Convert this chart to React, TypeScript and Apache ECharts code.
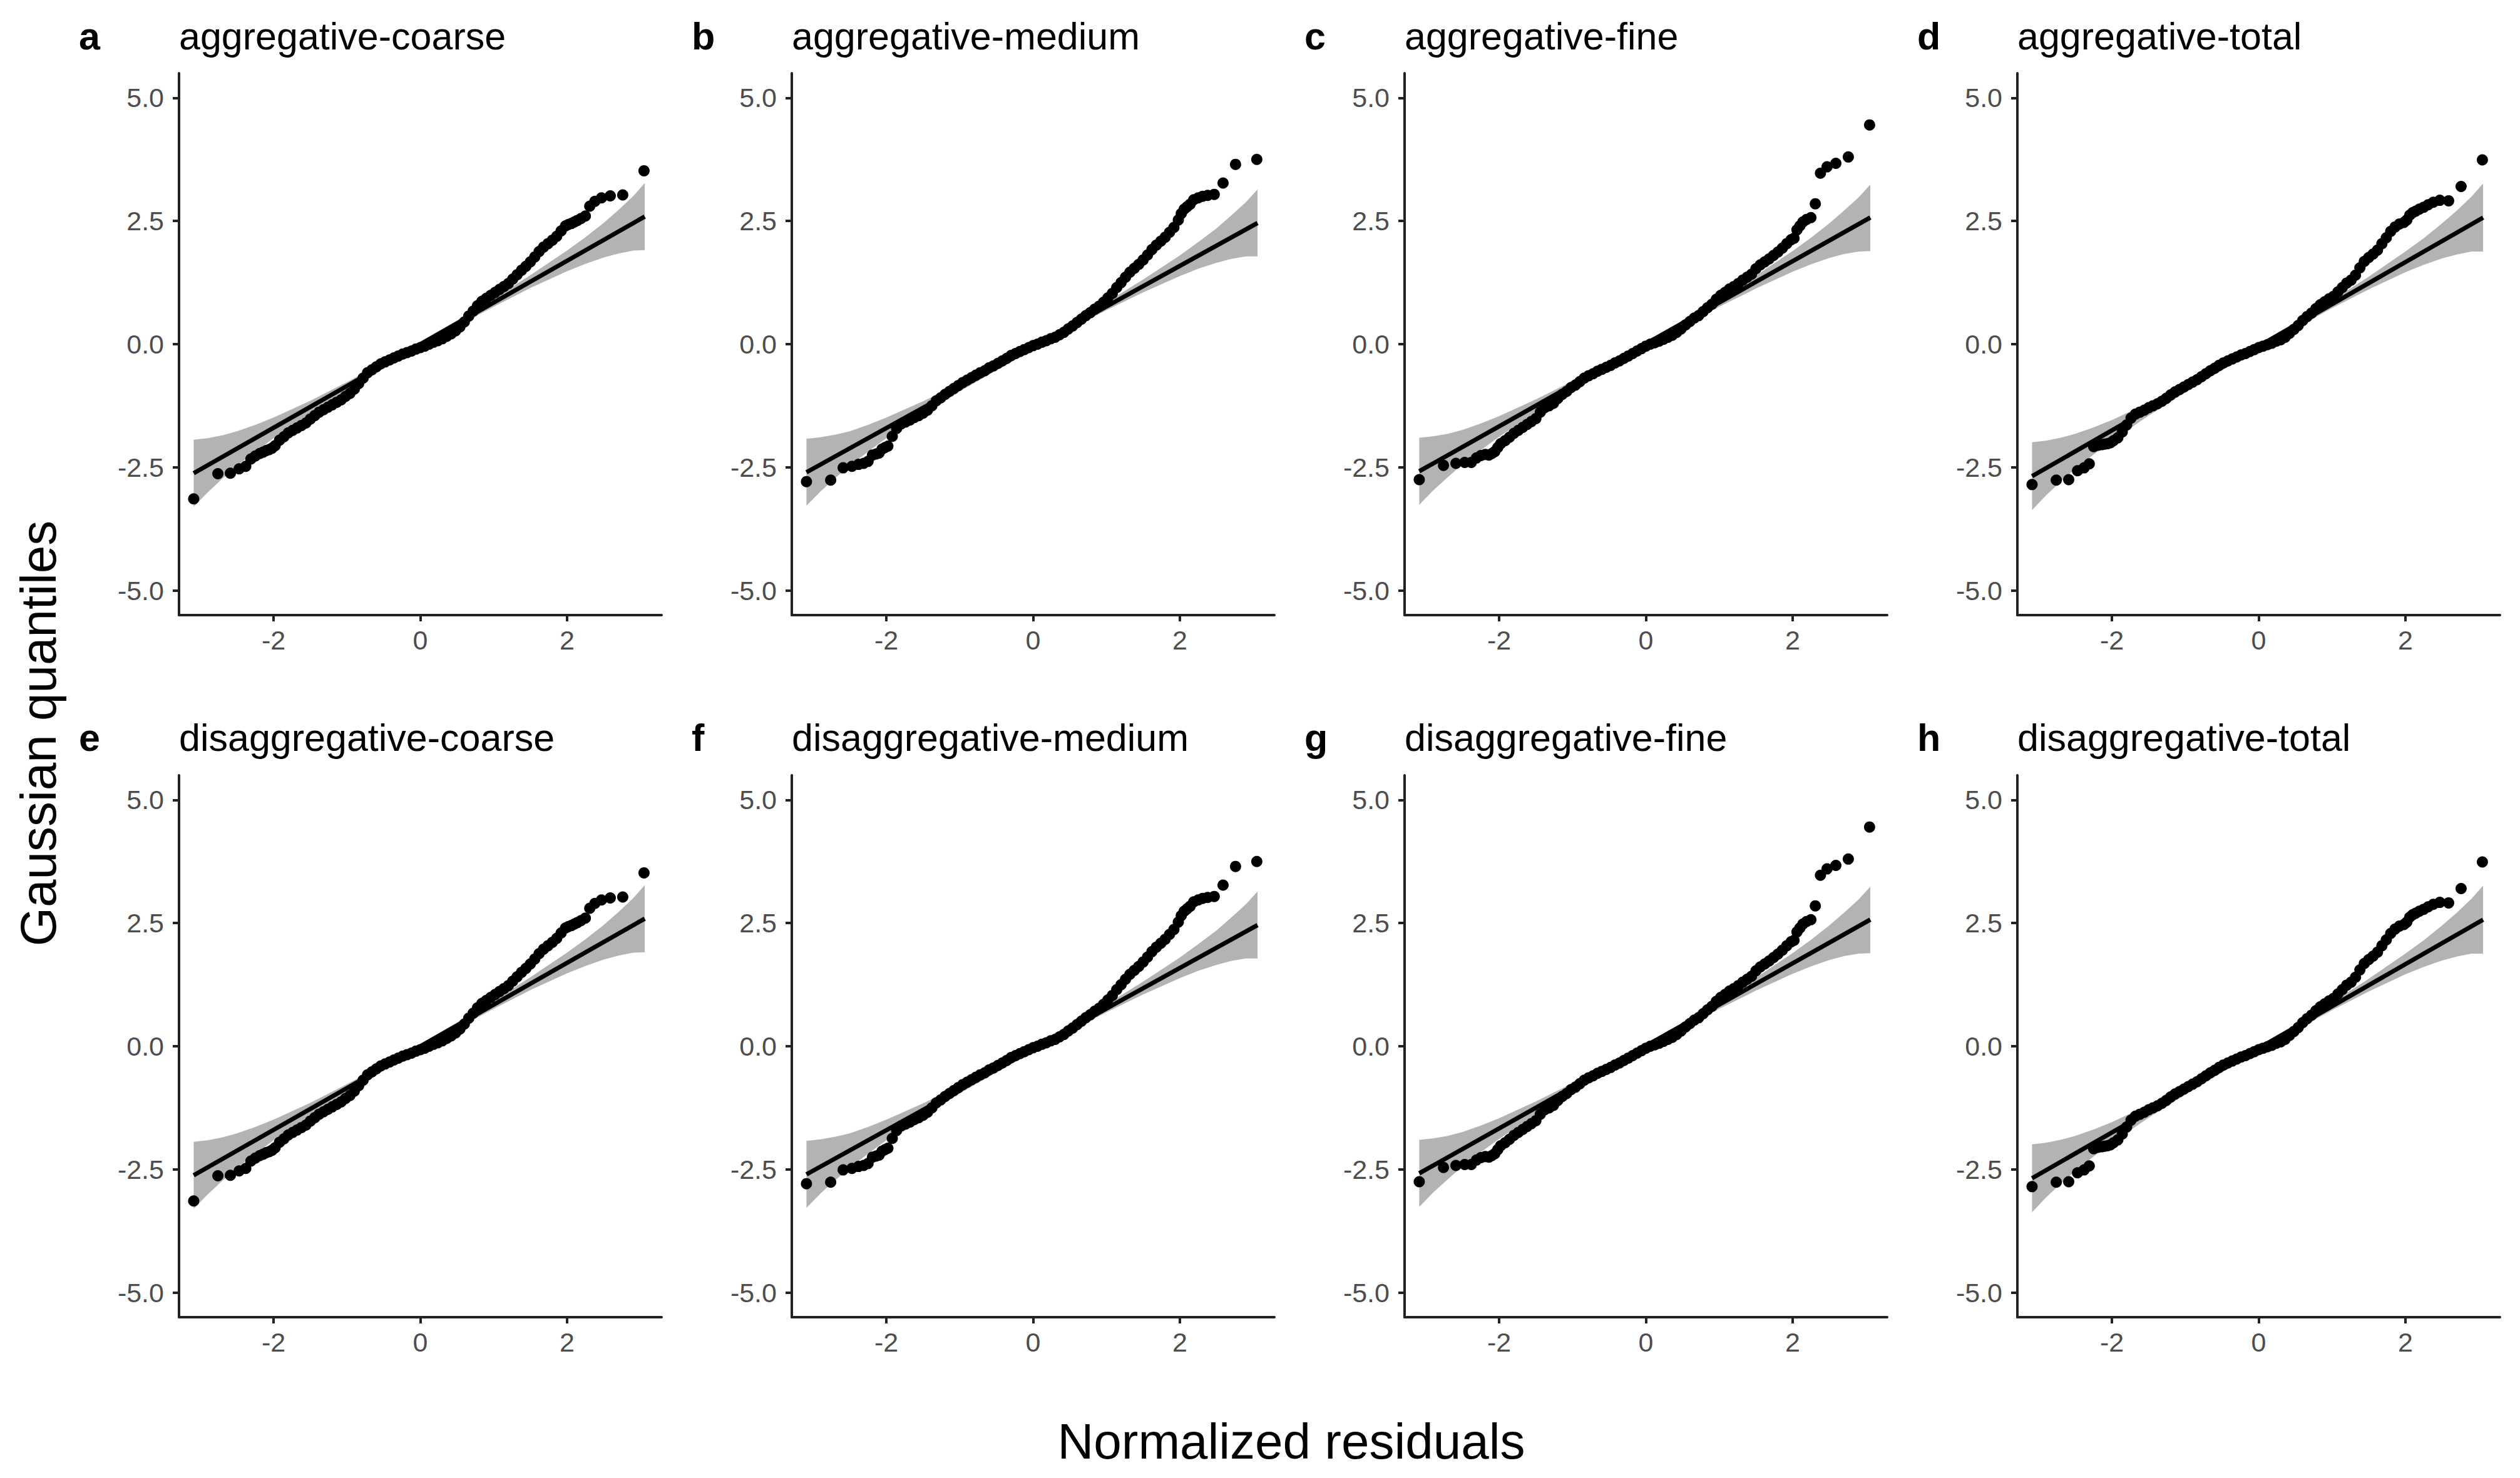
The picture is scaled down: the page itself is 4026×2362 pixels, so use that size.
import React, { useEffect, useRef } from "react";
import * as echarts from "echarts";

// ---------- DATA ----------
const panelLetters = ["a", "b", "c", "d", "e", "f", "g", "h"];
const panelTitles = [
  "aggregative-coarse",
  "aggregative-medium",
  "aggregative-fine",
  "aggregative-total",
  "disaggregative-coarse",
  "disaggregative-medium",
  "disaggregative-fine",
  "disaggregative-total",
];
const xTicks = [-2, 0, 2];
const yTicks = [-5, -2.5, 0, 2.5, 5];

// theoretical quantiles (shared by every panel)
const qx = [
  -3.09, -2.76, -2.59, -2.47, -2.38, -2.31, -2.25, -2.19, -2.14, -2.1, -2.06, -2.02,
  -1.98, -1.92, -1.86, -1.8, -1.74, -1.68, -1.62, -1.56, -1.5, -1.44, -1.38, -1.32,
  -1.26, -1.2, -1.14, -1.08, -1.02, -0.96, -0.9, -0.84, -0.78, -0.72, -0.66, -0.6,
  -0.54, -0.48, -0.42, -0.36, -0.3, -0.24, -0.18, -0.12, -0.06, 0.0, 0.06, 0.12,
  0.18, 0.24, 0.3, 0.36, 0.42, 0.48, 0.54, 0.6, 0.66, 0.72, 0.78, 0.84, 0.9, 0.96,
  1.02, 1.08, 1.14, 1.2, 1.26, 1.32, 1.38, 1.44, 1.5, 1.56, 1.62, 1.68, 1.74, 1.8,
  1.86, 1.92, 1.98,
  2.02, 2.06, 2.1, 2.14, 2.19, 2.25, 2.31, 2.38, 2.47, 2.59, 2.76, 3.05,
];

// sample quantiles per resolution (aggregative and disaggregative panels look identical)
const yCoarse = [
  -3.14, -2.63, -2.62, -2.53, -2.48, -2.33, -2.27, -2.22, -2.19, -2.16, -2.14, -2.11,
  -2.06, -1.95, -1.88, -1.8, -1.75, -1.7, -1.65, -1.6, -1.52, -1.45, -1.38, -1.33,
  -1.28, -1.23, -1.18, -1.13, -1.06, -1.0, -0.91, -0.8, -0.69, -0.58, -0.52, -0.46,
  -0.4, -0.36, -0.32, -0.28, -0.24, -0.2, -0.17, -0.14, -0.1, -0.07, -0.04, 0.0,
  0.04, 0.07, 0.11, 0.16, 0.21, 0.27, 0.35, 0.45, 0.57, 0.67, 0.78, 0.87, 0.93, 0.99,
  1.05, 1.11, 1.17, 1.23, 1.32, 1.41, 1.5, 1.58, 1.67, 1.77, 1.88, 1.97, 2.04, 2.11,
  2.19, 2.3, 2.4,
  2.43, 2.45, 2.48, 2.51, 2.55, 2.6, 2.8, 2.9, 2.97, 3.01, 3.03, 3.52,
];
const yMedium = [
  -2.79, -2.76, -2.51, -2.48, -2.44, -2.42, -2.38, -2.25, -2.23, -2.21, -2.13, -2.1,
  -2.07, -1.87, -1.71, -1.62, -1.58, -1.54, -1.49, -1.45, -1.4, -1.34, -1.25, -1.15,
  -1.09, -1.02, -0.96, -0.9, -0.84, -0.78, -0.73, -0.68, -0.63, -0.58, -0.54, -0.48,
  -0.44, -0.39, -0.34, -0.29, -0.23, -0.19, -0.15, -0.11, -0.07, -0.03, 0.0, 0.04,
  0.07, 0.11, 0.14, 0.19, 0.24, 0.31, 0.37, 0.44, 0.51, 0.58, 0.64, 0.71, 0.77, 0.85,
  0.94, 1.03, 1.15, 1.25, 1.36, 1.46, 1.54, 1.62, 1.71, 1.81, 1.92, 2.01, 2.09, 2.17,
  2.27, 2.37, 2.52,
  2.65, 2.74, 2.79, 2.84, 2.93, 2.97, 3.0, 3.02, 3.04, 3.27, 3.65, 3.75,
];
const yFine = [
  -2.75, -2.46, -2.42, -2.4, -2.4, -2.31, -2.26, -2.24, -2.25, -2.22, -2.18, -2.1,
  -2.02, -1.96, -1.89, -1.81, -1.75, -1.69, -1.63, -1.57, -1.51, -1.38, -1.29, -1.25,
  -1.2, -1.1, -1.02, -0.96, -0.88, -0.83, -0.76, -0.69, -0.64, -0.6, -0.55, -0.51,
  -0.47, -0.43, -0.38, -0.34, -0.29, -0.24, -0.19, -0.14, -0.09, -0.04, 0.0, 0.03,
  0.06, 0.1, 0.14, 0.18, 0.24, 0.31, 0.39, 0.46, 0.53, 0.58, 0.66, 0.74, 0.81, 0.91,
  0.99, 1.05, 1.12, 1.17, 1.23, 1.3, 1.36, 1.42, 1.53, 1.61, 1.67, 1.73, 1.8, 1.87,
  1.95, 2.04, 2.12,
  2.15, 2.32, 2.4, 2.48, 2.53, 2.57, 2.85, 3.47, 3.6, 3.67, 3.8, 4.45,
];
const yTotal = [
  -2.85, -2.76, -2.75, -2.57, -2.51, -2.43, -2.08, -2.05, -2.04, -2.03, -2.02, -2.0,
  -1.96, -1.9, -1.78, -1.64, -1.5, -1.42, -1.38, -1.34, -1.29, -1.25, -1.21, -1.16,
  -1.1, -1.03, -0.97, -0.92, -0.87, -0.82, -0.77, -0.72, -0.66, -0.6, -0.54, -0.49,
  -0.43, -0.38, -0.34, -0.3, -0.26, -0.22, -0.19, -0.15, -0.11, -0.07, -0.04, -0.01,
  0.02, 0.06, 0.09, 0.14, 0.22, 0.3, 0.38, 0.48, 0.56, 0.63, 0.72, 0.8, 0.86, 0.92,
  0.97, 1.06, 1.15, 1.24, 1.3, 1.4, 1.55, 1.68, 1.76, 1.83, 1.91, 2.04, 2.16, 2.29,
  2.38, 2.44, 2.47,
  2.52, 2.62, 2.67, 2.7, 2.74, 2.78, 2.83, 2.88, 2.92, 2.91, 3.2, 3.74,
];

// reference line end points
const lineCoarse = [[-3.09, -2.62], [3.06, 2.59]];
const lineMedium = [[-3.09, -2.6], [3.06, 2.46]];
const lineFine = [[-3.09, -2.58], [3.06, 2.57]];
const lineTotal = [[-3.09, -2.68], [3.06, 2.57]];

// confidence band
const bandX = [-3.09, -2.9, -2.7, -2.5, -2.25, -2.0, -1.5, -1.0, -0.5, 0, 0.5, 1.0, 1.5, 2.0, 2.25, 2.5, 2.7, 2.9, 3.06];
const bandUpCoarse = [-1.94, -1.91, -1.85, -1.77, -1.64, -1.49, -1.15, -0.77, -0.37, 0.05, 0.48, 0.92, 1.4, 1.9, 2.17, 2.46, 2.72, 3.0, 3.27];
const bandLoCoarse = [-3.3, -3.01, -2.73, -2.47, -2.18, -1.91, -1.41, -0.93, -0.49, -0.05, 0.36, 0.76, 1.14, 1.48, 1.63, 1.76, 1.84, 1.9, 1.91];
const bandUpMedium = [-1.92, -1.89, -1.84, -1.77, -1.64, -1.49, -1.16, -0.8, -0.41, -0.01, 0.42, 0.85, 1.31, 1.8, 2.07, 2.35, 2.61, 2.88, 3.14];
const bandLoMedium = [-3.28, -2.99, -2.72, -2.47, -2.18, -1.91, -1.42, -0.96, -0.53, -0.11, 0.3, 0.69, 1.05, 1.38, 1.53, 1.65, 1.73, 1.78, 1.78];
const bandUpFine = [-1.9, -1.87, -1.82, -1.74, -1.61, -1.46, -1.12, -0.75, -0.35, 0.06, 0.48, 0.92, 1.39, 1.89, 2.16, 2.45, 2.71, 2.98, 3.24];
const bandLoFine = [-3.26, -2.97, -2.7, -2.44, -2.15, -1.88, -1.38, -0.91, -0.47, -0.05, 0.36, 0.76, 1.13, 1.47, 1.62, 1.75, 1.83, 1.88, 1.89];
const bandUpTotal = [-1.99, -1.96, -1.9, -1.82, -1.69, -1.54, -1.19, -0.82, -0.41, 0.01, 0.44, 0.89, 1.37, 1.88, 2.15, 2.45, 2.71, 2.99, 3.26];
const bandLoTotal = [-3.37, -3.07, -2.79, -2.53, -2.24, -1.96, -1.45, -0.98, -0.53, -0.09, 0.32, 0.73, 1.11, 1.46, 1.61, 1.74, 1.82, 1.88, 1.88];

const panelY = [yCoarse, yMedium, yFine, yTotal, yCoarse, yMedium, yFine, yTotal];
const panelLine = [lineCoarse, lineMedium, lineFine, lineTotal, lineCoarse, lineMedium, lineFine, lineTotal];
const panelBandUp = [bandUpCoarse, bandUpMedium, bandUpFine, bandUpTotal, bandUpCoarse, bandUpMedium, bandUpFine, bandUpTotal];
const panelBandLo = [bandLoCoarse, bandLoMedium, bandLoFine, bandLoTotal, bandLoCoarse, bandLoMedium, bandLoFine, bandLoTotal];

// ---------- LAYOUT ----------
const W = 4026;
const H = 2362;
const FONT = "'Liberation Sans', Arial, Helvetica, sans-serif";
const colLeft = [286, 1265, 2244, 3223];
const rowTop = [117, 1239];
const gridW = 771;
const gridH = 866;
const titleY = [58, 1179];

export default function App() {
  const ref = useRef<HTMLDivElement>(null);

  useEffect(() => {
    document.body.style.margin = "0";
    document.body.style.overflow = "hidden";
    if (!ref.current) return;
    const chart = echarts.init(ref.current, undefined, { renderer: "svg" });

    const grids: any[] = [];
    const xAxes: any[] = [];
    const yAxes: any[] = [];
    const series: any[] = [];
    const graphics: any[] = [];

    const axisLine = { show: true, onZero: false, lineStyle: { color: "#222", width: 4 } };
    const tickStyle = { show: true, length: 10, lineStyle: { color: "#222", width: 4 } };

    for (let i = 0; i < 8; i++) {
      const col = i % 4;
      const row = Math.floor(i / 4);
      grids.push({ left: colLeft[col], top: rowTop[row], width: gridW, height: gridH, containLabel: false });
      xAxes.push({
        type: "value",
        gridIndex: i,
        min: -3.29,
        max: 3.29,
        position: "bottom",
        axisLine,
        splitLine: { show: false },
        axisTick: { ...tickStyle, customValues: xTicks },
        axisLabel: {
          customValues: xTicks,
          fontSize: 43,
          color: "#4d4d4d",
          fontFamily: FONT,
          margin: 18,
          formatter: (v: number) => String(v),
        },
      });
      yAxes.push({
        type: "value",
        gridIndex: i,
        min: -5.5,
        max: 5.5,
        position: "left",
        axisLine,
        splitLine: { show: false },
        axisTick: { ...tickStyle, customValues: yTicks },
        axisLabel: {
          customValues: yTicks,
          fontSize: 43,
          color: "#4d4d4d",
          fontFamily: FONT,
          margin: 24,
          formatter: (v: number) => v.toFixed(1),
        },
      });

      const up = panelBandUp[i];
      const lo = panelBandLo[i];
      series.push({
        type: "custom",
        xAxisIndex: i,
        yAxisIndex: i,
        silent: true,
        z: 1,
        data: [[0, 0]],
        renderItem: (_params: any, api: any) => {
          const pts: number[][] = [];
          for (let k = 0; k < bandX.length; k++) pts.push(api.coord([bandX[k], up[k]]));
          for (let k = bandX.length - 1; k >= 0; k--) pts.push(api.coord([bandX[k], lo[k]]));
          return { type: "polygon", shape: { points: pts }, style: { fill: "#b3b3b3", stroke: "none" } };
        },
      });
      series.push({
        type: "line",
        xAxisIndex: i,
        yAxisIndex: i,
        data: panelLine[i],
        symbol: "none",
        silent: true,
        z: 2,
        lineStyle: { color: "#000", width: 7 },
      });
      const ys = panelY[i];
      series.push({
        type: "scatter",
        xAxisIndex: i,
        yAxisIndex: i,
        data: qx.map((x, k) => [x, ys[k]]),
        symbol: "circle",
        symbolSize: 18,
        silent: true,
        z: 3,
        itemStyle: { color: "#000", opacity: 1 },
      });

      graphics.push({
        type: "text",
        x: colLeft[col] - 160,
        y: titleY[row],
        style: {
          text: panelLetters[i],
          fontSize: 61,
          fontWeight: "bold",
          fontFamily: FONT,
          fill: "#000",
          align: "left",
          verticalAlign: "middle",
        },
      });
      graphics.push({
        type: "text",
        x: colLeft[col],
        y: titleY[row],
        style: {
          text: panelTitles[i],
          fontSize: 61,
          fontFamily: FONT,
          fill: "#000",
          align: "left",
          verticalAlign: "middle",
        },
      });
    }

    graphics.push({
      type: "text",
      x: 61,
      y: 1172,
      rotation: Math.PI / 2,
      style: {
        text: "Gaussian quantiles",
        fontSize: 80,
        fontFamily: FONT,
        fill: "#000",
        align: "center",
        verticalAlign: "middle",
      },
    });
    graphics.push({
      type: "text",
      x: 2063,
      y: 2303,
      style: {
        text: "Normalized residuals",
        fontSize: 80,
        fontFamily: FONT,
        fill: "#000",
        align: "center",
        verticalAlign: "middle",
      },
    });

    chart.setOption({
      animation: false,
      backgroundColor: "#fff",
      grid: grids,
      xAxis: xAxes,
      yAxis: yAxes,
      series,
      graphic: graphics,
    });

    return () => chart.dispose();
  }, []);

  return <div ref={ref} style={{ width: W + "px", height: H + "px" }} />;
}
